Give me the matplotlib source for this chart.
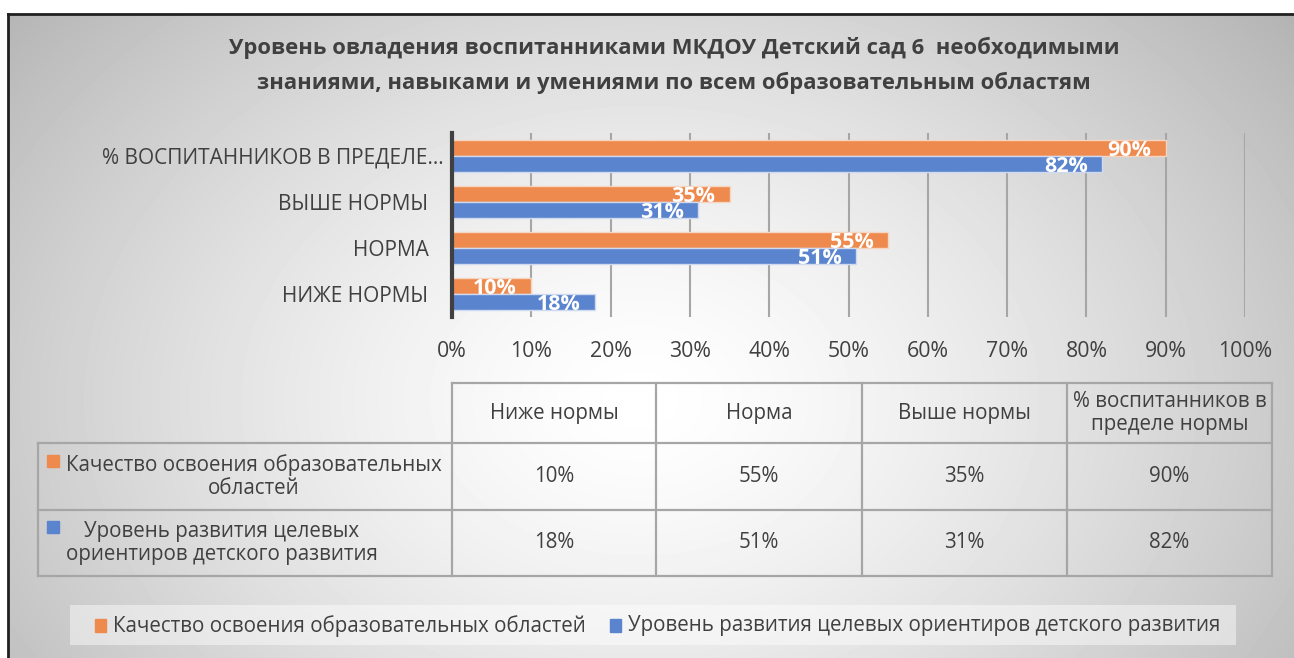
import numpy as np
import matplotlib.pyplot as plt
import matplotlib.transforms as mtransforms
from matplotlib.patches import Rectangle

plt.rcParams["font.family"] = ["Open Sans", "DejaVu Sans"]

# Data
categories = ["НИЖЕ НОРМЫ", "НОРМА", "ВЫШЕ НОРМЫ", "% ВОСПИТАННИКОВ В ПРЕДЕЛЕ..."]
series_names = ["Качество освоения образовательных областей",
                "Уровень развития целевых ориентиров детского развития"]
quality = [10, 55, 35, 90]
targets = [18, 51, 31, 82]
xticks = list(range(0, 101, 10))
table_headers = ["Ниже нормы", "Норма", "Выше нормы", "% воспитанников в\nпределе нормы"]
row_labels = ["Качество освоения образовательных\nобластей",
              "Уровень развития целевых\nориентиров детского развития"]
title_lines = ["Уровень овладения воспитанниками МКДОУ Детский сад 6  необходимыми",
               "знаниями, навыками и умениями по всем образовательным областям"]

orange = "#EE8A4E"
blue = "#5B84CF"
text_col = "#404040"
grid_col = "#a6a6a6"

W, H = 1294, 658
fig = plt.figure(figsize=(W / 100, H / 100), dpi=100)

# background in pixel coordinates
bg = fig.add_axes([0, 0, 1, 1])
bg.set_xlim(0, W)
bg.set_ylim(H, 0)
bg.axis("off")
yy, xx = np.mgrid[0:H, 0:W]
r = np.sqrt(((xx - 640) / 760.0) ** 2 + ((yy - 400) / 560.0) ** 2)
shade = np.clip(1 - 0.26 * r ** 1.4, 0, 1)
bg.imshow(shade, cmap="gray", vmin=0, vmax=1, extent=(0, W, H, 0), aspect="auto", zorder=0)
bg.add_patch(Rectangle((0, 0), W, 14, color="white", zorder=1))
bg.add_patch(Rectangle((0, 0), 8, H, color="white", zorder=1))
bg.plot([8, W], [14, 14], color="#202020", lw=2, zorder=2)
bg.plot([8, 8], [14, H], color="#202020", lw=2, zorder=2)

# title
for i, line in enumerate(title_lines):
    bg.text(674, 48 + 35 * i, line, ha="center", va="center", fontsize=15.8,
            fontweight="bold", color=text_col, zorder=3)

# bar chart
ax = fig.add_axes([452 / W, 1 - 317 / H, (1245 - 452) / W, (317 - 133) / H])
ax.patch.set_alpha(0)
y = np.arange(len(categories))
h = 0.348
ax.barh(y + h / 2, quality, h, color=orange, edgecolor="#f6d6c2", linewidth=1, zorder=2)
ax.barh(y - h / 2, targets, h, color=blue, edgecolor="#cfdaf0", linewidth=1, zorder=2)
for yc, v in zip(y + h / 2, quality):
    ax.text(v - 1.8, yc - 0.05, f"{v}%", ha="right", va="center", color="white",
            fontweight="bold", fontsize=15.5, zorder=3)
for yc, v in zip(y - h / 2, targets):
    ax.text(v - 1.8, yc - 0.05, f"{v}%", ha="right", va="center", color="white",
            fontweight="bold", fontsize=15.5, zorder=3)
ax.set_xlim(0, 100)
ax.set_ylim(-0.5, len(categories) - 0.5)
ax.set_xticks(xticks)
ax.set_xticklabels([f"{t}%" for t in xticks])
ax.set_yticks(y)
ax.set_yticklabels(categories)
ax.xaxis.grid(True, color=grid_col, lw=1.5)
ax.set_axisbelow(True)
for s in ["top", "right", "bottom"]:
    ax.spines[s].set_visible(False)
ax.spines["left"].set_color("#404040")
ax.spines["left"].set_linewidth(3)
ax.spines["left"].set_zorder(4)
ax.tick_params(axis="x", length=0, pad=17, labelsize=15.3, labelcolor=text_col)
ax.tick_params(axis="y", length=0, pad=17, labelsize=15, labelcolor=text_col)
# the truncated long label sits closer to the axis
lbl = ax.get_yticklabels()[-1]
lbl.set_transform(lbl.get_transform() + mtransforms.ScaledTranslation(15 / 100, 0, fig.dpi_scale_trans))

# data table
col_x = [38, 452, 656, 862, 1067, 1272]
row_y = [383, 443, 510, 576]
tk = dict(color=grid_col, lw=1.6, zorder=3)
bg.plot([col_x[1], col_x[-1]], [row_y[0], row_y[0]], **tk)
for yl in row_y[1:]:
    bg.plot([col_x[0], col_x[-1]], [yl, yl], **tk)
bg.plot([col_x[0], col_x[0]], [row_y[1], row_y[-1]], **tk)
for xl in col_x[1:]:
    bg.plot([xl, xl], [row_y[0], row_y[-1]], **tk)

fs_tab = 14.8
for j, head in enumerate(table_headers):
    cx = (col_x[j + 1] + col_x[j + 2]) / 2
    bg.text(cx, (row_y[0] + row_y[1]) / 2, head, ha="center", va="center",
            fontsize=fs_tab, color=text_col, linespacing=1.1, zorder=4)

for i, (lab, vals, col) in enumerate(zip(row_labels, [quality, targets], [orange, blue])):
    cy = (row_y[i + 1] + row_y[i + 2]) / 2
    bg.add_patch(Rectangle((47, cy - 22), 12, 12, color=col, zorder=4))
    bg.text(254 if i == 0 else 222, cy, lab, ha="center", va="center", fontsize=fs_tab,
            color=text_col, linespacing=1.15, zorder=4)
    for j, v in enumerate(vals):
        cx = (col_x[j + 1] + col_x[j + 2]) / 2
        bg.text(cx, cy, f"{v}%", ha="center", va="center", fontsize=fs_tab,
                color=text_col, zorder=4)

# legend
bg.add_patch(Rectangle((70, 605), 1166, 40, facecolor="white", alpha=0.45,
                       edgecolor="none", zorder=3))
lx = [95, 610]
for x0, name, col in zip(lx, series_names, [orange, blue]):
    bg.add_patch(Rectangle((x0, 619), 11, 13, color=col, zorder=4))
    bg.text(x0 + 18, 626, name, ha="left", va="center", fontsize=14.8,
            color=text_col, zorder=4)

fig.savefig("out.png", dpi=100)
